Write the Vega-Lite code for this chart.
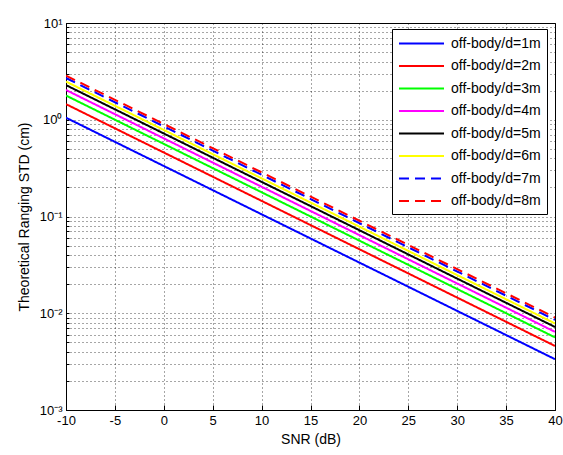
{
  "$schema": "https://vega.github.io/schema/vega-lite/v6.json",
  "width": 489,
  "height": 387,
  "autosize": "none",
  "padding": {"left": 66, "top": 23, "right": 8, "bottom": 45},
  "background": "white",
  "config": {
    "font": "Liberation Sans",
    "view": {"stroke": "black", "strokeWidth": 1},
    "axis": {
      "domainColor": "black",
      "tickColor": "black",
      "labelColor": "black",
      "titleColor": "black",
      "labelFont": "Liberation Sans",
      "titleFont": "Liberation Sans",
      "labelFontSize": 13,
      "titleFontSize": 14,
      "titleFontWeight": "normal",
      "labelFlush": false,
      "labelOverlap": false,
      "gridColor": "black",
      "gridDash": [1, 3],
      "gridOpacity": 0.7,
      "gridWidth": 1
    }
  },
  "data": {
    "values": [
      {"series": "off-body/d=1m", "snr": -10, "std": 1.05},
      {"series": "off-body/d=1m", "snr": 40, "std": 0.00335},
      {"series": "off-body/d=2m", "snr": -10, "std": 1.45},
      {"series": "off-body/d=2m", "snr": 40, "std": 0.00459},
      {"series": "off-body/d=3m", "snr": -10, "std": 1.78},
      {"series": "off-body/d=3m", "snr": 40, "std": 0.00563},
      {"series": "off-body/d=4m", "snr": -10, "std": 2.03},
      {"series": "off-body/d=4m", "snr": 40, "std": 0.00642},
      {"series": "off-body/d=5m", "snr": -10, "std": 2.28},
      {"series": "off-body/d=5m", "snr": 40, "std": 0.00721},
      {"series": "off-body/d=6m", "snr": -10, "std": 2.48},
      {"series": "off-body/d=6m", "snr": 40, "std": 0.00784},
      {"series": "off-body/d=7m", "snr": -10, "std": 2.7},
      {"series": "off-body/d=7m", "snr": 40, "std": 0.00854},
      {"series": "off-body/d=8m", "snr": -10, "std": 2.86},
      {"series": "off-body/d=8m", "snr": 40, "std": 0.00904}
    ]
  },
  "mark": {"type": "line", "strokeWidth": 2, "clip": true},
  "encoding": {
    "x": {
      "field": "snr", "type": "quantitative",
      "scale": {"domain": [-10, 40], "nice": false, "zero": false},
      "axis": {
        "title": "SNR (dB)",
        "values": [-10, -5, 0, 5, 10, 15, 20, 25, 30, 35, 40],
        "labelExpr": "toString(datum.value)",
        "grid": true,
        "tickSize": -5,
        "labelPadding": 9,
        "titlePadding": 5
      }
    },
    "y": {
      "field": "std", "type": "quantitative",
      "scale": {"type": "log", "domain": [0.001, 10], "nice": false},
      "axis": {
        "title": "Theoretical Ranging STD (cm)",
        "values": [0.001, 0.002, 0.003, 0.004, 0.005, 0.006, 0.007, 0.008, 0.009,
                   0.01, 0.02, 0.03, 0.04, 0.05, 0.06, 0.07, 0.08, 0.09,
                   0.1, 0.2, 0.3, 0.4, 0.5, 0.6, 0.7, 0.8, 0.9,
                   1, 2, 3, 4, 5, 6, 7, 8, 9, 10],
        "labelExpr": "datum.value == 0.001 ? '10⁻³' : datum.value == 0.01 ? '10⁻²' : datum.value == 0.1 ? '10⁻¹' : datum.value == 1 ? '10⁰' : datum.value == 10 ? '10¹' : ''",
        "grid": true,
        "tickSize": -3,
        "labelPadding": 7,
        "titlePadding": 8
      }
    },
    "color": {
      "field": "series", "type": "nominal",
      "scale": {
        "domain": ["off-body/d=1m", "off-body/d=2m", "off-body/d=3m", "off-body/d=4m", "off-body/d=5m", "off-body/d=6m", "off-body/d=7m", "off-body/d=8m"],
        "range": ["#0000ff", "#ff0000", "#00ff00", "#ff00ff", "#000000", "#ffff00", "#0000ff", "#ff0000"]
      },
      "legend": {
        "title": null,
        "orient": "none",
        "legendX": 326,
        "legendY": 6,
        "symbolType": "M-1,0H5",
        "symbolSize": 225,
        "symbolStrokeWidth": 2,
        "labelFontSize": 14,
        "labelFont": "Liberation Sans",
        "labelColor": "black",
        "labelLimit": 200,
        "labelOffset": 36,
        "strokeColor": "black",
        "fillColor": "white",
        "padding": 6,
        "rowPadding": 6.5
      }
    },
    "strokeDash": {
      "field": "series", "type": "nominal",
      "scale": {
        "domain": ["off-body/d=1m", "off-body/d=2m", "off-body/d=3m", "off-body/d=4m", "off-body/d=5m", "off-body/d=6m", "off-body/d=7m", "off-body/d=8m"],
        "range": [[1, 0], [1, 0], [1, 0], [1, 0], [1, 0], [1, 0], [10, 6], [10, 6]]
      },
      "legend": null
    }
  }
}
